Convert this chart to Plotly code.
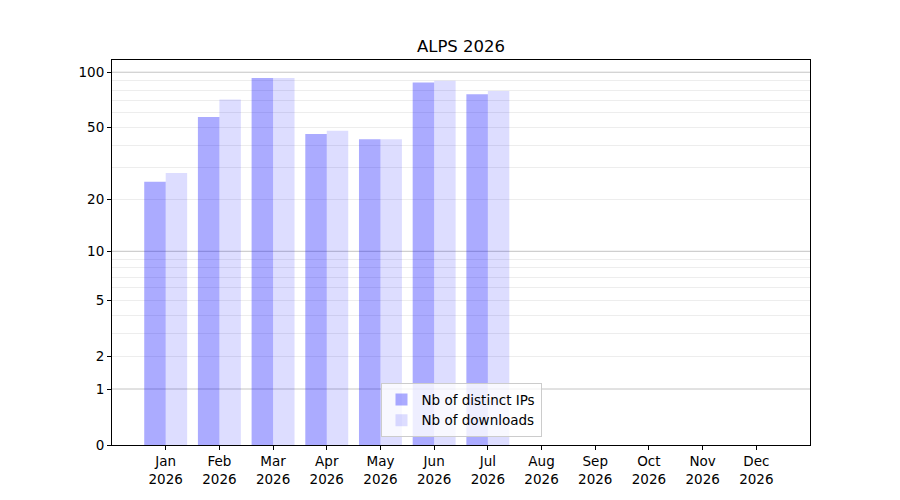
import plotly.graph_objects as go

months = ["Jan", "Feb", "Mar", "Apr", "May", "Jun", "Jul", "Aug", "Sep", "Oct", "Nov", "Dec"]
year = "2026"
distinct_ips = [25, 57, 93, 46, 43, 88, 76, 0, 0, 0, 0, 0]
downloads = [28, 71, 93, 48, 43, 90, 79, 0, 0, 0, 0, 0]
y_tick_values = [0, 1, 2, 5, 10, 20, 50, 100]
major_grid_values = [1, 10, 100]
minor_grid_values = [2, 3, 4, 5, 6, 7, 8, 9, 20, 30, 40, 50, 60, 70, 80, 90]

# y axis behaves like log10(1 + value): plot on a log axis with an offset of 1
OFFSET = 1

labels = [f"{m}<br>{year}" for m in months]

fig = go.Figure()
fig.add_trace(go.Bar(
    x=labels, y=distinct_ips, base=[OFFSET] * len(distinct_ips),
    name="Nb of distinct IPs", marker=dict(color="rgba(0,0,255,0.33)", line=dict(width=0)),
))
fig.add_trace(go.Bar(
    x=labels, y=downloads, base=[OFFSET] * len(downloads),
    name="Nb of downloads", marker=dict(color="rgba(0,0,255,0.135)", line=dict(width=0)),
))

shapes = []
for g in major_grid_values:
    shapes.append(dict(type="line", xref="paper", x0=0, x1=1, yref="y",
                       y0=g + OFFSET, y1=g + OFFSET, layer="below",
                       line=dict(color="#c4c4c4", width=1)))

font = "DejaVu Sans"
fig.update_layout(
    width=900, height=500,
    margin=dict(l=104, r=98, t=52, b=63),
    paper_bgcolor="white", plot_bgcolor="white",
    barmode="group", bargap=0.2, bargroupgap=0,
    font=dict(family=font, size=13.5, color="black"),
    title=dict(text="ALPS 2026", x=(461 - 8) / 900, xanchor="center", y=(500 - 38) / 500,
               yanchor="middle", font=dict(family=font, size=16.5, color="black")),
    shapes=shapes,
    showlegend=True,
    legend=dict(x=0.5, xanchor="center", y=0.02, yanchor="bottom",
                bgcolor="rgba(255,255,255,0.8)", bordercolor="#cccccc", borderwidth=1,
                font=dict(family=font, size=13.5), traceorder="normal",
                itemwidth=30, tracegroupgap=0),
    xaxis=dict(
        type="category", categoryorder="array", categoryarray=labels,
        range=[-1.0, 12.0], showgrid=False, zeroline=False,
        showline=True, mirror=True, linecolor="black", linewidth=1,
        ticks="outside", ticklen=4, tickcolor="black", tickwidth=1,
        tickfont=dict(family=font, size=13.5),
    ),
    yaxis=dict(
        type="log", range=[0, 2.07], showgrid=False, zeroline=False,
        tickmode="array",
        tickvals=[v + OFFSET for v in y_tick_values],
        ticktext=[str(v) for v in y_tick_values],
        showline=True, mirror=True, linecolor="black", linewidth=1,
        ticks="outside", ticklen=4, tickcolor="black", tickwidth=1,
        tickfont=dict(family=font, size=13.5),
        minor=dict(tickmode="array", tickvals=[v + OFFSET for v in minor_grid_values],
                   showgrid=True, gridcolor="#ededed", gridwidth=1, ticks=""),
    ),
)

fig.write_html("out.html")
